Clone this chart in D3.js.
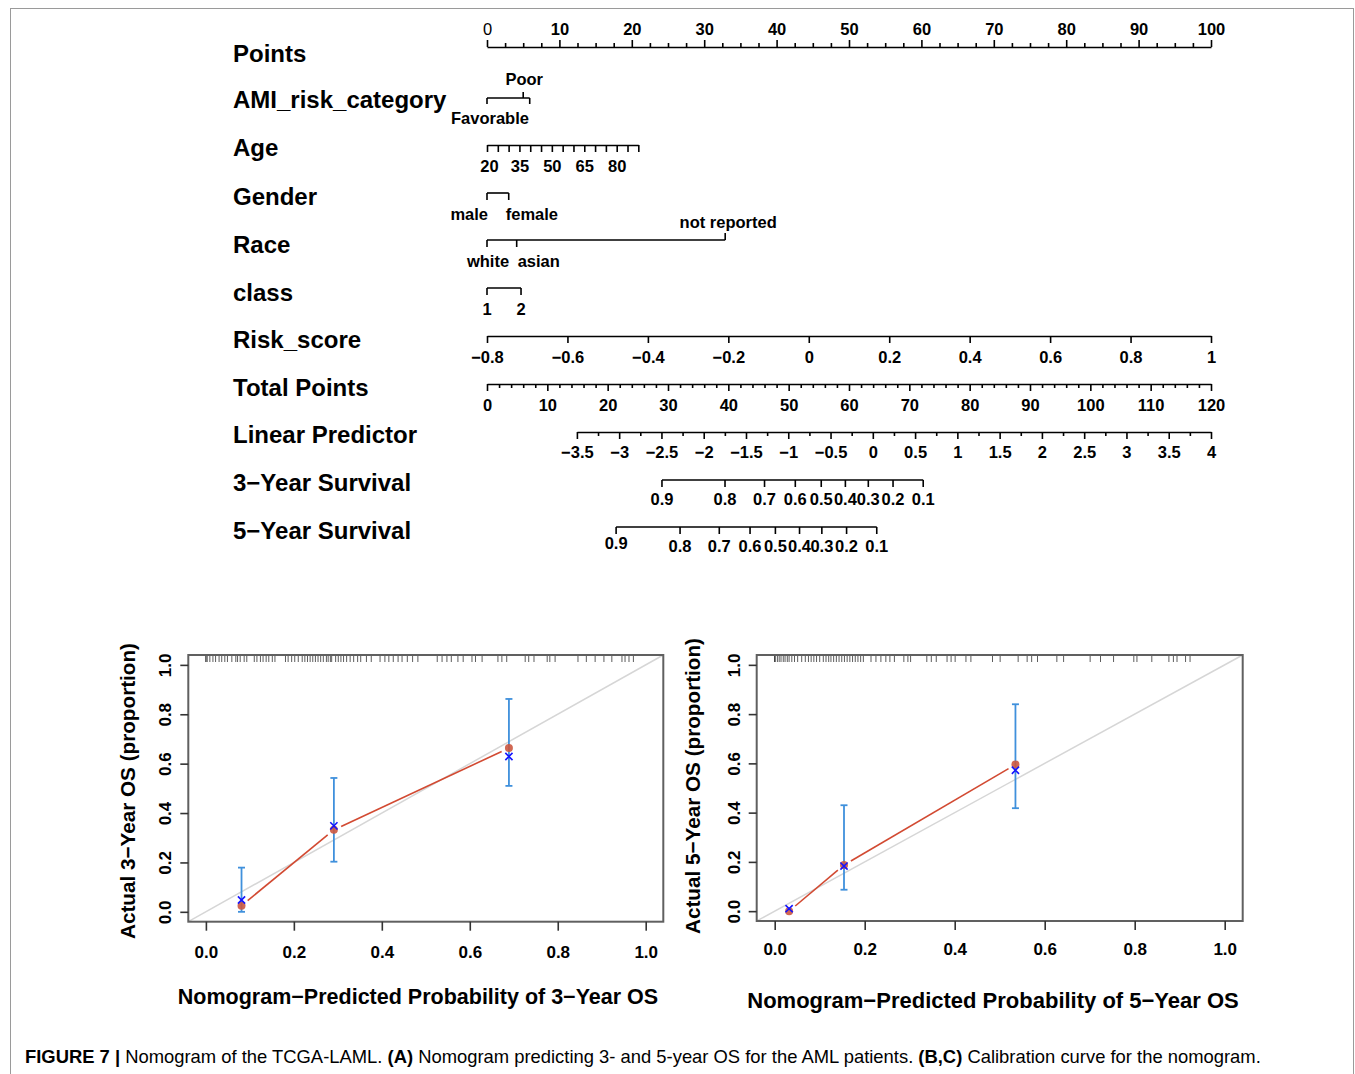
<!DOCTYPE html>
<html>
<head>
<meta charset="utf-8">
<script src="https://cdn.jsdelivr.net/npm/d3@7"></script>
<style>
body { margin: 0; background: #fff; }
text { font-family: "Liberation Sans", Arial, sans-serif; }
</style>
</head>
<body>
<svg id="fig" width="1355" height="1074"></svg>
<script>
// ---- nomogram values (in points / total points) ----
var rowNames = ["Points", "AMI_risk_category", "Age", "Gender", "Race", "class", "Risk_score",
    "Total Points", "Linear Predictor", "3\u2212Year Survival", "5\u2212Year Survival"];

var amlLevels = ["Favorable", "Poor", ""];
var amlPoints = [0, 5.0, 5.9];

var ageValues = [20, 25, 30, 35, 40, 45, 50, 55, 60, 65, 70, 75, 80, 85, 90];
var ageLabels = [20, 35, 50, 65, 80];
var ageMaxPoints = 20.9; // age 90

var genderLevels = ["male", "female"];
var genderPoints = [0, 3.0];

var raceLevels = ["white", "asian", "not reported"];
var racePoints = [0, 4.1, 32.9];

var classLevels = ["1", "2"];
var classPoints = [0, 4.7];

var riskTicks = [-0.8, -0.6, -0.4, -0.2, 0, 0.2, 0.4, 0.6, 0.8, 1];
var totalLabels = [0, 10, 20, 30, 40, 50, 60, 70, 80, 90, 100, 110, 120];
var lpLabels = [-3.5, -3, -2.5, -2, -1.5, -1, -0.5, 0, 0.5, 1, 1.5, 2, 2.5, 3, 3.5, 4];
var lpRangeTotal = [14.9, 120]; // total points where LP = -3.5 and LP = 4

var survLabels = ["0.9", "0.8", "0.7", "0.6", "0.5", "0.4", "0.3", "0.2", "0.1"];
var surv3Total = [29.0, 39.45, 46.0, 51.1, 55.4, 59.4, 63.2, 67.3, 72.3];
var surv5Total = [21.4, 32.0, 38.5, 43.6, 47.8, 51.8, 55.5, 59.6, 64.6];

// ---- calibration values ----
var calTicks = [0, 0.2, 0.4, 0.6, 0.8, 1.0];

var b_pred = [0.081, 0.291, 0.689];
var b_obs = [0.025, 0.332, 0.663];
var b_corr = [0.048, 0.348, 0.629];
var b_lo = [0.0, 0.203, 0.510];
var b_hi = [0.179, 0.542, 0.862];
var b_rug = [0, 0, 0.003, 0.009, 0.016, 0.022, 0.030, 0.036, 0.043, 0.049, 0.059, 0.068, 0.072, 0.078,
    0.087, 0.093, 0.110, 0.116, 0.124, 0.130, 0.137, 0.143, 0.151, 0.157, 0.181, 0.187, 0.195, 0.202,
    0.210, 0.219, 0.225, 0.231, 0.237, 0.243, 0.249, 0.255, 0.261, 0.267, 0.274, 0.278, 0.283, 0.286,
    0.295, 0.301, 0.307, 0.313, 0.320, 0.328, 0.336, 0.345, 0.352, 0.365, 0.376, 0.396, 0.407, 0.416,
    0.426, 0.437, 0.446, 0.458, 0.470, 0.482, 0.526, 0.537, 0.548, 0.558, 0.573, 0.585, 0.605, 0.613,
    0.628, 0.664, 0.673, 0.684, 0.726, 0.734, 0.746, 0.776, 0.782, 0.794, 0.846, 0.865, 0.885, 0.905,
    0.923, 0.946, 0.953, 0.962, 0.972];

var c_pred = [0.032, 0.154, 0.535];
var c_obs = [0.0, 0.187, 0.595];
var c_corr = [0.010, 0.183, 0.572];
var c_lo = [null, 0.087, 0.418];
var c_hi = [null, 0.430, 0.840];
var c_rug = [0, 0, 0.001, 0.006, 0.010, 0.014, 0.019, 0.023, 0.028, 0.032, 0.038, 0.044, 0.051, 0.060,
    0.068, 0.075, 0.081, 0.087, 0.093, 0.100, 0.108, 0.114, 0.120, 0.125, 0.131, 0.137, 0.143, 0.149,
    0.155, 0.161, 0.167, 0.173, 0.179, 0.185, 0.191, 0.197, 0.214, 0.225, 0.236, 0.247, 0.256, 0.266,
    0.287, 0.296, 0.302, 0.338, 0.348, 0.359, 0.383, 0.392, 0.401, 0.425, 0.436, 0.484, 0.501, 0.541,
    0.561, 0.571, 0.584, 0.627, 0.642, 0.701, 0.724, 0.753, 0.798, 0.805, 0.838, 0.876, 0.886, 0.894,
    0.913, 0.923];

var svg = d3.select("#fig");
var LAB = 16.5;   // tick label size in the nomogram
var fmt = d3.format("~g");

svg.append("rect").attr("x", 10.5).attr("y", 8.5).attr("width", 1343).attr("height", 1080)
    .attr("fill", "none").attr("stroke", "#9a9a9a").attr("stroke-width", 1);

// ---------------- nomogram ----------------
var pts = d3.scaleLinear().domain([0, 100]).range([487, 1211]);
var tot = d3.scaleLinear().domain([0, 120]).range([487, 1211]);

var rowY = [53, 99, 147, 196, 244, 292, 339, 387, 434, 482, 530];
svg.selectAll(".vname").data(rowNames).enter().append("text")
    .attr("x", 233).attr("y", function (d, i) { return rowY[i] + 8.5; })
    .attr("font-size", 24).attr("font-weight", "bold").text(function (d) { return d; });

function hline(y, x0, x1) {
    svg.append("line").attr("x1", x0).attr("x2", x1).attr("y1", y).attr("y2", y)
        .attr("stroke", "#000").attr("stroke-width", 1.6);
}
function vtick(x, y, len) {
    svg.append("line").attr("x1", x).attr("x2", x).attr("y1", y).attr("y2", y + len)
        .attr("stroke", "#000").attr("stroke-width", 1.6);
}
function lab(x, y, t, anchor) {
    return svg.append("text").attr("x", x).attr("y", y).attr("text-anchor", anchor || "middle")
        .attr("font-size", LAB).attr("font-weight", "bold").text(t);
}
function styleAxis(g) {
    g.selectAll("path.domain").attr("stroke-width", 1.6);
    g.selectAll(".tick line").attr("stroke-width", 1.6);
    g.selectAll("text").attr("font-size", LAB).attr("font-weight", "bold")
        .attr("font-family", "'Liberation Sans', Arial, sans-serif").attr("fill", "#000");
}

// Points
var gPts = svg.append("g").attr("transform", "translate(0,47)")
    .call(d3.axisTop(pts).tickValues(d3.range(0, 101, 10)).tickFormat(fmt).tickSize(7).tickPadding(5).tickSizeOuter(0));
styleAxis(gPts);
gPts.selectAll("text").filter(function (d) { return d === 0; }).attr("font-weight", "normal");
svg.append("g").attr("transform", "translate(0,47)")
    .call(d3.axisTop(pts).tickValues(d3.range(0, 100.1, 2.5).filter(function (d) { return d % 10 !== 0; }))
        .tickSize(4).tickFormat("").tickSizeOuter(0))
    .call(styleAxis).select("path.domain").remove();

// AMI_risk_category
hline(98, pts(0), pts(amlPoints[2]));
vtick(pts(amlPoints[0]), 98, 6);
vtick(pts(amlPoints[1]), 98, -6);
vtick(pts(amlPoints[2]), 98, 6);
lab(pts(amlPoints[0]) + 3, 124, amlLevels[0]);
lab(pts(amlPoints[1]) + 1, 85, amlLevels[1]);

// Age
var ageX = d3.scaleLinear().domain([20, 90]).range([pts(0), pts(ageMaxPoints)]);
var gAge = svg.append("g").attr("transform", "translate(0,145)")
    .call(d3.axisBottom(ageX).tickValues(ageValues).tickSize(7).tickPadding(8).tickSizeOuter(0)
        .tickFormat(function (d) { return ageLabels.indexOf(d) >= 0 ? d : ""; }));
styleAxis(gAge);
gAge.selectAll("text").filter(function (d) { return d === 20; }).attr("dx", 2);

// Gender
hline(193, pts(0), pts(genderPoints[1]));
vtick(pts(genderPoints[0]), 193, 7);
vtick(pts(genderPoints[1]), 193, 7);
lab(pts(genderPoints[0]) + 1, 220, genderLevels[0], "end");
lab(pts(genderPoints[1]) - 3, 220, genderLevels[1], "start");

// Race
hline(240, pts(0), pts(racePoints[2]));
vtick(pts(racePoints[0]), 240, 7);
vtick(pts(racePoints[1]), 240, 7);
vtick(pts(racePoints[2]), 240, -7);
lab(pts(racePoints[0]) + 1, 267, raceLevels[0]);
lab(pts(racePoints[1]) + 1, 267, raceLevels[1], "start");
lab(pts(racePoints[2]) + 3, 228, raceLevels[2]);

// class
hline(288, pts(0), pts(classPoints[1]));
vtick(pts(classPoints[0]), 288, 7);
vtick(pts(classPoints[1]), 288, 7);
lab(pts(classPoints[0]), 315, classLevels[0]);
lab(pts(classPoints[1]), 315, classLevels[1]);

// Risk_score
var rsX = d3.scaleLinear().domain([-0.8, 1]).range([pts(0), pts(100)]);
svg.append("g").attr("transform", "translate(0,336)")
    .call(d3.axisBottom(rsX).tickValues(riskTicks).tickFormat(fmt).tickSize(7).tickPadding(8).tickSizeOuter(0))
    .call(styleAxis);

// Total Points
var gTot = svg.append("g").attr("transform", "translate(0,384)")
    .call(d3.axisBottom(tot).tickValues(totalLabels).tickFormat(fmt).tickSize(7).tickPadding(8).tickSizeOuter(0));
styleAxis(gTot);
svg.append("g").attr("transform", "translate(0,384)")
    .call(d3.axisBottom(tot).tickValues(d3.range(0, 121, 2).filter(function (d) { return d % 10 !== 0; }))
        .tickSize(4).tickFormat("").tickSizeOuter(0))
    .call(styleAxis).select("path.domain").remove();

// Linear Predictor
var lpX = d3.scaleLinear().domain([-3.5, 4]).range([tot(lpRangeTotal[0]), tot(lpRangeTotal[1])]);
svg.append("g").attr("transform", "translate(0,432)")
    .call(d3.axisBottom(lpX).tickValues(lpLabels).tickFormat(fmt).tickSize(7).tickPadding(7).tickSizeOuter(0))
    .call(styleAxis);
svg.append("g").attr("transform", "translate(0,432)")
    .call(d3.axisBottom(lpX).tickValues(lpLabels.slice(0, -1).map(function (d) { return d + 0.25; }))
        .tickSize(4).tickFormat("").tickSizeOuter(0))
    .call(styleAxis).select("path.domain").remove();

// survival rows
function survRow(y, totals, firstDy) {
    hline(y, tot(totals[0]), tot(totals[totals.length - 1]));
    totals.forEach(function (t, i) {
        vtick(tot(t), y, 7);
        lab(tot(t), y + 25 + (i === 0 ? firstDy : 0), survLabels[i]);
    });
}
survRow(480, surv3Total, 0);
survRow(527, surv5Total, -3);

// ---------------- calibration panels ----------------
function calPanel(o) {
    var x = d3.scaleLinear().domain([-0.04, 1.04]).range([o.left, o.right]);
    var y = d3.scaleLinear().domain([-0.04, 1.04]).range([o.bottom, o.top]);
    var g = svg.append("g");

    // ideal line
    g.append("line").attr("x1", x(-0.04)).attr("y1", y(-0.04)).attr("x2", x(1.04)).attr("y2", y(1.04))
        .attr("stroke", "#d6d6d6").attr("stroke-width", 1.5);

    // rug of predictions
    g.selectAll(".rug").data(o.rug).enter().append("line")
        .attr("x1", function (d) { return x(d); }).attr("x2", function (d) { return x(d); })
        .attr("y1", o.top).attr("y2", o.top + 7)
        .attr("stroke", "#333").attr("stroke-width", 0.8);

    // red line with gaps at the points (type = "b")
    for (var i = 0; i < o.pred.length - 1; i++) {
        var x0 = x(o.pred[i]), y0 = y(o.obs[i]), x1 = x(o.pred[i + 1]), y1 = y(o.obs[i + 1]);
        var len = Math.hypot(x1 - x0, y1 - y0), gap = 8;
        var ux = (x1 - x0) / len, uy = (y1 - y0) / len;
        g.append("line").attr("x1", x0 + ux * gap).attr("y1", y0 + uy * gap)
            .attr("x2", x1 - ux * gap).attr("y2", y1 - uy * gap)
            .attr("stroke", "#d24a32").attr("stroke-width", 1.6);
    }

    // error bars
    o.pred.forEach(function (p, i) {
        if (o.lo[i] === null) return;
        var xc = x(p);
        g.append("line").attr("x1", xc).attr("x2", xc).attr("y1", y(o.lo[i])).attr("y2", y(o.hi[i]))
            .attr("stroke", "#3f90dc").attr("stroke-width", 1.8);
        [o.lo[i], o.hi[i]].forEach(function (v) {
            g.append("line").attr("x1", xc - 3.5).attr("x2", xc + 3.5).attr("y1", y(v)).attr("y2", y(v))
                .attr("stroke", "#3f90dc").attr("stroke-width", 1.8);
        });
    });

    // observed points
    g.selectAll(".obs").data(o.pred).enter().append("circle")
        .attr("cx", function (d) { return x(d); }).attr("cy", function (d, i) { return y(o.obs[i]); })
        .attr("r", 4).attr("fill", "#cc5840").attr("opacity", 0.9);

    // bias-corrected
    o.pred.forEach(function (p, i) {
        var xc = x(p), yc = y(o.corr[i]), s = 3.6;
        g.append("path").attr("d", "M" + (xc - s) + "," + (yc - s) + "L" + (xc + s) + "," + (yc + s) +
            "M" + (xc - s) + "," + (yc + s) + "L" + (xc + s) + "," + (yc - s))
            .attr("stroke", "#1414ff").attr("stroke-width", 1.6).attr("fill", "none");
    });

    // box
    g.append("rect").attr("x", o.left).attr("y", o.top).attr("width", o.right - o.left)
        .attr("height", o.bottom - o.top).attr("fill", "none").attr("stroke", "#606060").attr("stroke-width", 2);

    // axes
    var ax = g.append("g").attr("transform", "translate(0," + o.bottom + ")")
        .call(d3.axisBottom(x).tickValues(calTicks).tickFormat(d3.format(".1f")).tickSize(9).tickPadding(o.xPad).tickSizeOuter(0));
    ax.select("path.domain").remove();
    ax.selectAll(".tick line").attr("stroke", "#333").attr("stroke-width", 1.6);
    ax.selectAll("text").attr("font-size", 17).attr("font-weight", "bold").attr("fill", "#000")
        .attr("font-family", "'Liberation Sans', Arial, sans-serif");

    var ay = g.append("g").attr("transform", "translate(" + o.left + ",0)")
        .call(d3.axisLeft(y).tickValues(calTicks).tickFormat(d3.format(".1f")).tickSize(8).tickSizeOuter(0));
    ay.select("path.domain").remove();
    ay.selectAll(".tick line").attr("stroke", "#333").attr("stroke-width", 1.6);
    ay.selectAll("text").attr("font-size", 17).attr("font-weight", "bold").attr("fill", "#000")
        .attr("font-family", "'Liberation Sans', Arial, sans-serif")
        .attr("x", null).attr("dy", null).attr("text-anchor", "middle")
        .attr("transform", "translate(" + (-23) + ",0) rotate(-90) translate(0,6)");

    svg.append("text").attr("x", o.xTitle[0]).attr("y", o.xTitle[1]).attr("text-anchor", "middle")
        .attr("font-size", o.xTitle[2]).attr("font-weight", "bold").text(o.xLabel);
    svg.append("text").attr("transform", "translate(" + o.yTitle[0] + "," + o.yTitle[1] + ") rotate(-90)")
        .attr("text-anchor", "middle").attr("font-size", 20.7).attr("font-weight", "bold").text(o.yLabel);
}

calPanel({
    left: 188.3, right: 663.3, top: 655, bottom: 921.7, xPad: 15,
    pred: b_pred, obs: b_obs, corr: b_corr, lo: b_lo, hi: b_hi, rug: b_rug,
    xLabel: "Nomogram\u2212Predicted Probability of 3\u2212Year OS", xTitle: [418, 1004, 21.5],
    yLabel: "Actual 3\u2212Year OS (proportion)", yTitle: [135, 791]
});
calPanel({
    left: 756.7, right: 1242.7, top: 655, bottom: 921, xPad: 13,
    pred: c_pred, obs: c_obs, corr: c_corr, lo: c_lo, hi: c_hi, rug: c_rug,
    xLabel: "Nomogram\u2212Predicted Probability of 5\u2212Year OS", xTitle: [993, 1008, 22],
    yLabel: "Actual 5\u2212Year OS (proportion)", yTitle: [700, 786]
});

// ---------------- caption ----------------
var cap = svg.append("text").attr("x", 25).attr("y", 1063).attr("font-size", 18.4);
[["FIGURE 7 | ", true], ["Nomogram of the TCGA-LAML. ", false], ["(A)", true],
 [" Nomogram predicting 3- and 5-year OS for the AML patients. ", false], ["(B,C)", true],
 [" Calibration curve for the nomogram.", false]].forEach(function (p) {
    cap.append("tspan").attr("font-weight", p[1] ? "bold" : "normal").text(p[0]);
});
</script>
</body>
</html>
